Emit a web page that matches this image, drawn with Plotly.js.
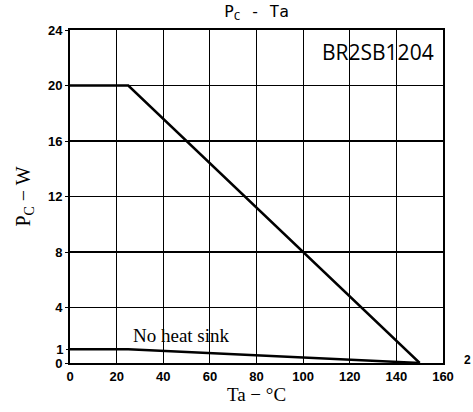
<!DOCTYPE html>
<html><head><meta charset="utf-8">
<script src="https://cdn.plot.ly/plotly-3.0.1.min.js"></script>
<style>html,body{margin:0;padding:0;background:#fff}</style>
</head><body><div id="chart" style="width:473px;height:412px"></div>
<script>
// Data
const taHeatSink = [0, 25, 150];
const pcHeatSink = [20, 20, 0];
const taNoSink = [0, 25, 150];
const pcNoSink = [1, 1, 0];
const xTicks = [0, 20, 40, 60, 80, 100, 120, 140, 160];
const yTicks = [0, 4, 8, 12, 16, 20, 24];
const yExtraTicks = [1];

const tickFont = {family: 'Liberation Sans, Arial, sans-serif', size: 13, color: '#000', weight: 'bold'};
const serif = 'Liberation Serif, Times New Roman, serif';

const traces = [
  {x: taHeatSink, y: pcHeatSink, mode: 'lines', line: {color: '#000', width: 2.5}, hoverinfo: 'skip'},
  {x: taNoSink, y: pcNoSink, mode: 'lines', line: {color: '#000', width: 2.5}, hoverinfo: 'skip'},
  {x: [0], y: [1], yaxis: 'y2', mode: 'markers', marker: {opacity: 0}, hoverinfo: 'skip'}
];

const layout = {
  width: 473, height: 412,
  margin: {l: 70, r: 30, t: 30, b: 49},
  showlegend: false,
  paper_bgcolor: '#fff', plot_bgcolor: '#fff',
  title: {text: 'P<sub>C</sub> - Ta', font: {family: 'DejaVu Sans Mono, Liberation Mono, monospace', size: 16, color: '#000'},
          xref: 'paper', x: 0.5, xanchor: 'center', y: 0.972, yanchor: 'middle'},
  xaxis: {range: [0, 160], tickvals: xTicks, ticktext: xTicks.map(String),
          showgrid: true, gridcolor: '#000', gridwidth: 1.2, zeroline: false,
          showline: true, linecolor: '#000', linewidth: 2, mirror: true,
          ticks: '', tickfont: tickFont, ticklen: 0,
          title: {text: 'Ta − °C', font: {family: serif, size: 19, color: '#000'}, standoff: 4}},
  yaxis: {range: [0, 24], tickvals: yTicks, ticktext: yTicks.map(String),
          showgrid: true, gridcolor: '#000', gridwidth: 1.2, zeroline: false,
          showline: true, linecolor: '#000', linewidth: 2, mirror: true,
          ticks: 'outside', ticklen: 3, tickcolor: '#000', tickfont: tickFont,
          title: {text: 'P<sub>C</sub> − W', font: {family: serif, size: 20, color: '#000'}, standoff: 12}},
  yaxis2: {range: [0, 24], overlaying: 'y', side: 'left', tickvals: yExtraTicks, ticktext: ['1'],
           showgrid: false, zeroline: false, showline: false, ticks: 'outside', ticklen: 3, tickcolor: '#000',
           tickfont: tickFont},
  annotations: [
    {text: 'BR2SB1204', xref: 'x', yref: 'y', x: 132, y: 22.4, xanchor: 'center', yanchor: 'middle',
     showarrow: false, font: {family: 'Open Sans, Noto Sans, sans-serif', size: 21, color: '#000'}},
    {text: 'No heat sink', xref: 'x', yref: 'y', x: 26, y: 2.0, xanchor: 'left', yanchor: 'middle',
     showarrow: false, font: {family: serif, size: 19, color: '#000'}},
    {text: '2', xref: 'paper', yref: 'paper', x: 1.065, y: 0.01, xanchor: 'center', yanchor: 'middle',
     showarrow: false, font: {family: 'Liberation Sans, sans-serif', size: 12, color: '#000', weight: 'bold'}}
  ]
};

Plotly.newPlot('chart', traces, layout, {staticPlot: true, displayModeBar: false});
</script>
</body></html>
